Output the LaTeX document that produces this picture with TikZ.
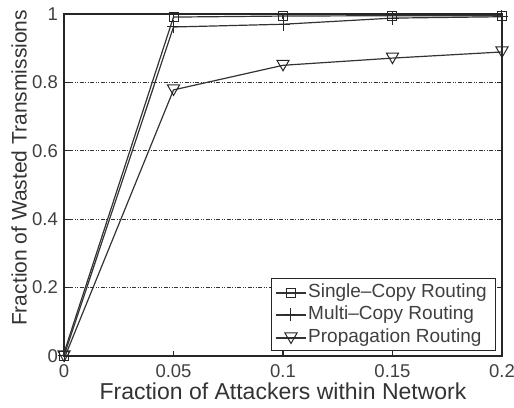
\documentclass[tikz,border=0pt]{standalone}
\usepackage{fontspec}
\setmainfont{Liberation Sans}
\usetikzlibrary{shapes.geometric}
\tikzset{
  axisline/.style={line width=1.2pt, black!85},
  gridline/.style={line width=0.8pt, black!80, dash pattern=on 1pt off 1.5pt on 1pt off 1.5pt on 4pt off 1.5pt},
  curve/.style={line width=1.2pt, black!80},
  sqmark/.style={draw=black!85, line width=1pt, fill=none, minimum size=9pt, inner sep=0pt, rectangle},
  trimark/.style={draw=black!85, line width=1pt, regular polygon, regular polygon sides=3, shape border rotate=180, minimum size=14pt, inner sep=0pt},
  ticklab/.style={font=\fontsize{18.5}{18.5}\selectfont, text=black!75, inner sep=1pt},
  axlab/.style={font=\fontsize{23}{23}\selectfont, text=black!80, inner sep=1pt},
  legtext/.style={font=\fontsize{19}{19}\selectfont, text=black!75, anchor=west, inner sep=0pt},
}
% plus-shaped marker centred on a named coordinate
\newcommand{\plusat}[1]{\draw[line width=1pt, black!85] ([xshift=-6.5pt]#1) -- ([xshift=6.5pt]#1) ([yshift=-6.5pt]#1) -- ([yshift=6.5pt]#1);}
\begin{document}
\begin{tikzpicture}[x=1pt,y=1pt]
\useasboundingbox (0,0) rectangle (514,407);
\begin{scope}[shift={(64,51)}, x=2190pt, y=342pt]
  % horizontal grid
  \foreach \v in {0.2,0.4,0.6,0.8}
    \draw[gridline] (0,\v) -- (0.2,\v);
  % frame
  \draw[axisline] (0,0) rectangle (0.2,1);
  % ticks
  \foreach \v in {0.05,0.1,0.15} {
    \draw[axisline] (\v,0) -- ++(0,5pt);
    \draw[axisline] (\v,1) -- ++(0,-5pt);
  }
  \foreach \v in {0.2,0.4,0.6,0.8} {
    \draw[axisline] (0,\v) -- ++(5pt,0);
    \draw[axisline] (0.2,\v) -- ++(-5pt,0);
  }
  % tick labels
  \node[ticklab, anchor=base] (x0) at (0,-22pt) {0};
  \node[ticklab, anchor=base] (x1) at (0.05,-22pt) {0.05};
  \node[ticklab, anchor=base] (x2) at (0.1,-22pt) {0.1};
  \node[ticklab, anchor=base] (x3) at (0.15,-22pt) {0.15};
  \node[ticklab, anchor=base] (x4) at (0.2,-22pt) {0.2};
  \node[ticklab, anchor=east] (y0) at (-5pt,0) {0};
  \node[ticklab, anchor=east] (y1) at (-5pt,0.2) {0.2};
  \node[ticklab, anchor=east] (y2) at (-5pt,0.4) {0.4};
  \node[ticklab, anchor=east] (y3) at (-5pt,0.6) {0.6};
  \node[ticklab, anchor=east] (y4) at (-5pt,0.8) {0.8};
  \node[ticklab, anchor=east] (y5) at (-5pt,1) {1};
  % axis labels
  \node[axlab, anchor=base] (xlab) at (0.1,-43pt) {Fraction of Attackers within Network};
  \node[axlab, rotate=90, font=\fontsize{21}{21}\selectfont] (ylab) at (-45pt,0.55) {Fraction of Wasted Transmissions};
  % data points
  \coordinate (s0) at (0,0);
  \coordinate (s1) at (0.05,0.991);
  \coordinate (s2) at (0.1,0.994);
  \coordinate (s3) at (0.15,0.995);
  \coordinate (s4) at (0.2,0.995);
  \coordinate (m0) at (0,0);
  \coordinate (m1) at (0.05,0.962);
  \coordinate (m2) at (0.1,0.970);
  \coordinate (m3) at (0.15,0.988);
  \coordinate (m4) at (0.2,0.992);
  \coordinate (p0) at (0,0);
  \coordinate (p1) at (0.05,0.778);
  \coordinate (p2) at (0.1,0.850);
  \coordinate (p3) at (0.15,0.871);
  \coordinate (p4) at (0.2,0.889);
  % curves
  \draw[curve] ([xshift=1.2pt]p0) -- (p1) -- (p2) -- (p3) -- (p4);
  \draw[curve] (m0) -- (m1) -- (m2) -- (m3) -- (m4);
  \draw[curve] ([xshift=-1pt]s0) -- (s1) -- (s2) -- (s3) -- (s4);
  % markers
  \foreach \i in {0,...,4} {
    \node[trimark] at ([yshift=1.5pt]p\i) {};
    \plusat{m\i}
    \node[sqmark] at (s\i) {};
  }
  % legend
  \node[draw=black!85, line width=1pt, fill=white, minimum width=224pt, minimum height=72pt, anchor=south east, inner sep=0pt] (leg) at ([xshift=-6pt,yshift=5pt]0.2,0) {};
  \coordinate (l1) at ([xshift=5pt,yshift=-15pt]leg.north west);
  \coordinate (l2) at ([xshift=5pt,yshift=-37pt]leg.north west);
  \coordinate (l3) at ([xshift=5pt,yshift=-60pt]leg.north west);
  \draw[curve] (l1) -- ++(30pt,0) coordinate (l1e);
  \draw[curve] (l2) -- ++(30pt,0) coordinate (l2e);
  \draw[curve] (l3) -- ++(30pt,0) coordinate (l3e);
  \coordinate (lm1) at ([xshift=15pt]l1);
  \coordinate (lm2) at ([xshift=15pt]l2);
  \coordinate (lm3) at ([xshift=15pt,yshift=1.5pt]l3);
  \node[sqmark] at (lm1) {};
  \plusat{lm2}
  \node[trimark] at (lm3) {};
  \node[legtext] (t1) at ([xshift=2pt]l1e) {Single–Copy Routing};
  \node[legtext] (t2) at ([xshift=2pt]l2e) {Multi–Copy Routing};
  \node[legtext] (t3) at ([xshift=2pt]l3e) {Propagation Routing};
\end{scope}
\end{tikzpicture}
\end{document}
